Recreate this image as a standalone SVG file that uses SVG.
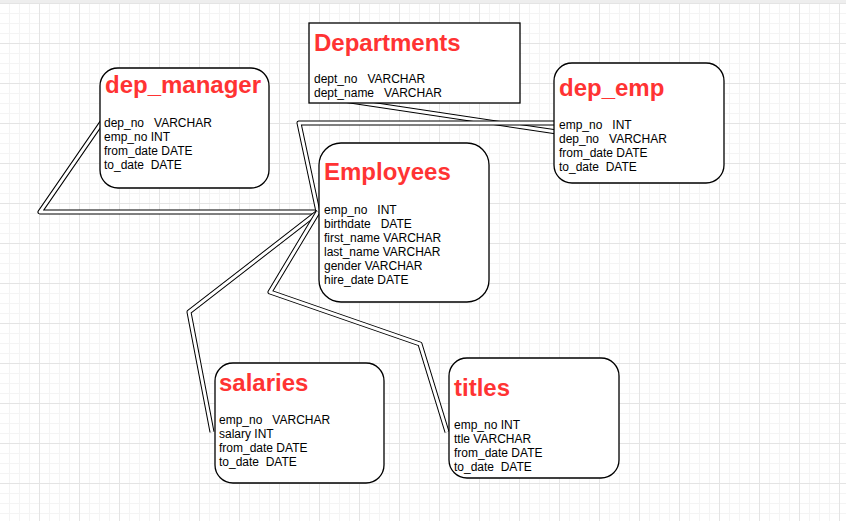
<svg xmlns="http://www.w3.org/2000/svg" width="846" height="521" viewBox="0 0 846 521">
<style>
.node{fill:#fff;stroke:#000;stroke-width:1.3}
.title{font-family:"Liberation Sans",Arial,sans-serif;font-size:24px;font-weight:bold;fill:#FF3333}
.field{font-family:"Liberation Sans",Arial,sans-serif;font-size:12px;fill:#000;white-space:pre}
.outer{fill:none;stroke:#000;stroke-width:5;stroke-linejoin:round}
.inner{fill:none;stroke:#fff;stroke-width:3;stroke-linejoin:round}
</style>
<defs>
<pattern id="minor" patternUnits="userSpaceOnUse" x="0" y="4" width="10" height="10">
<path d="M9.5 0V10M0 9.5H10" stroke="#f4f4f4" stroke-width="1" fill="none"/>
</pattern>
<pattern id="major" patternUnits="userSpaceOnUse" x="0" y="4" width="40" height="40">
<path d="M39.5 0V40M0 39.5H40" stroke="#e4e4e4" stroke-width="1" fill="none"/>
</pattern>
</defs>
<rect width="846" height="521" fill="#fff"/>
<rect width="846" height="521" fill="url(#minor)"/>
<rect width="846" height="521" fill="url(#major)"/>
<rect width="846" height="3" fill="#eeeeee"/>

<g id="connectors">
<path class="outer" d="M102 122L40 212H318"/>
<path class="inner" d="M102 122L40 212H318"/>
<path class="outer" d="M310 95L557 132"/>
<path class="inner" d="M310 95L557 132"/>
<path class="outer" d="M318 212L299 123H554"/>
<path class="inner" d="M318 212L299 123H554"/>
<path class="outer" d="M318 212L189 312L212 432"/>
<path class="inner" d="M318 212L189 312L212 432"/>
<path class="outer" d="M318 212L270 292L420 344L447 432"/>
<path class="inner" d="M318 212L270 292L420 344L447 432"/>
</g>

<g id="dep_manager">
<rect class="node" x="100" y="68" width="169" height="120" rx="18"/>
<text class="title" x="105" y="93">dep_manager</text>
<text class="field" x="104" y="127">dep_no   VARCHAR</text>
<text class="field" x="104" y="141">emp_no INT</text>
<text class="field" x="104" y="155">from_date DATE</text>
<text class="field" x="104" y="169">to_date  DATE</text>
</g>

<g id="departments">
<rect class="node" x="309" y="23" width="211" height="80"/>
<text class="title" x="314" y="51">Departments</text>
<text class="field" x="314" y="83">dept_no   VARCHAR</text>
<text class="field" x="314" y="97">dept_name   VARCHAR</text>
</g>

<g id="dep_emp">
<rect class="node" x="554" y="63" width="170" height="120" rx="18"/>
<text class="title" x="559" y="96">dep_emp</text>
<text class="field" x="559" y="129">emp_no   INT</text>
<text class="field" x="559" y="143">dep_no   VARCHAR</text>
<text class="field" x="559" y="157">from_date DATE</text>
<text class="field" x="559" y="171">to_date  DATE</text>
</g>

<g id="employees">
<rect class="node" x="319" y="143" width="170" height="159" rx="22"/>
<text class="title" x="324" y="180">Employees</text>
<text class="field" x="324" y="214">emp_no   INT</text>
<text class="field" x="324" y="228">birthdate   DATE</text>
<text class="field" x="324" y="242">first_name VARCHAR</text>
<text class="field" x="324" y="256">last_name VARCHAR</text>
<text class="field" x="324" y="270">gender VARCHAR</text>
<text class="field" x="324" y="284">hire_date DATE</text>
</g>

<g id="salaries">
<rect class="node" x="215" y="363" width="169" height="120" rx="18"/>
<text class="title" x="219" y="391">salaries</text>
<text class="field" x="219" y="424">emp_no   VARCHAR</text>
<text class="field" x="219" y="438">salary INT</text>
<text class="field" x="219" y="452">from_date DATE</text>
<text class="field" x="219" y="466">to_date  DATE</text>
</g>

<g id="titles">
<rect class="node" x="449" y="358" width="170" height="120" rx="18"/>
<text class="title" x="454" y="396">titles</text>
<text class="field" x="454" y="429">emp_no INT</text>
<text class="field" x="454" y="443">ttle VARCHAR</text>
<text class="field" x="454" y="457">from_date DATE</text>
<text class="field" x="454" y="471">to_date  DATE</text>
</g>
</svg>
